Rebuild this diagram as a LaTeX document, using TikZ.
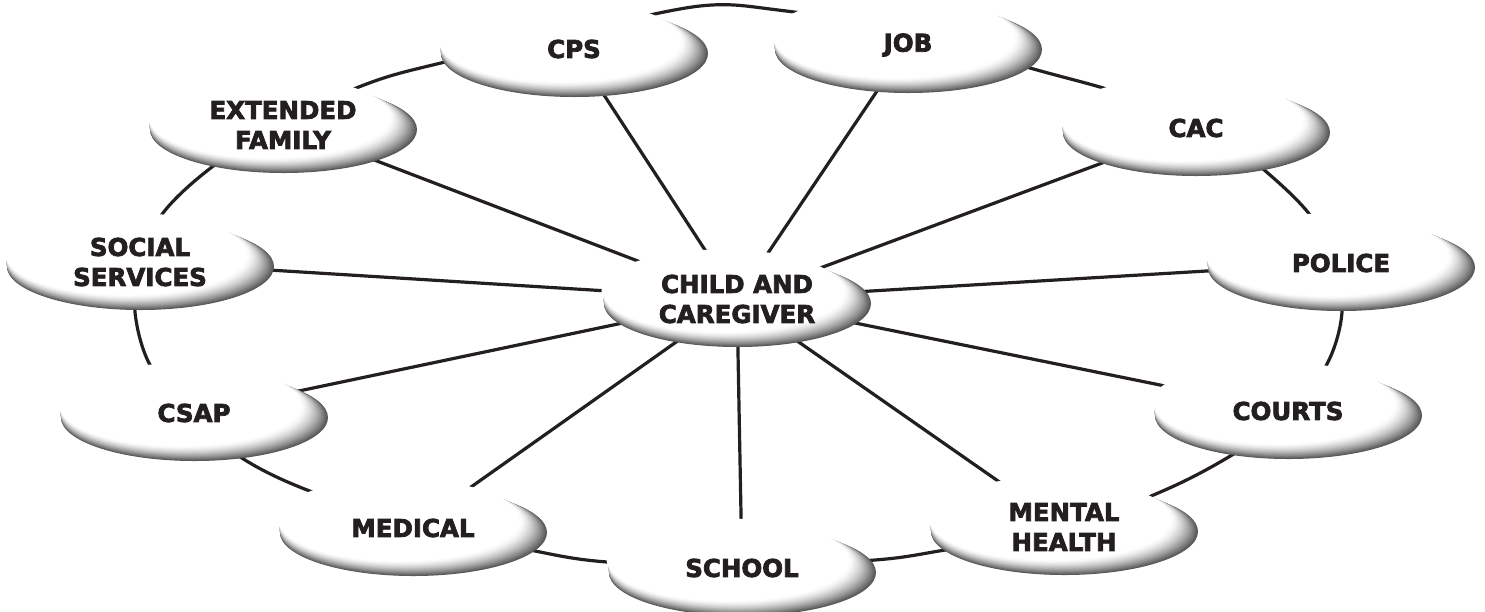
\documentclass[tikz,border=0pt]{standalone}
\usepackage{fontspec}
\newfontfamily\heavyfont{DejaVu Sans Bold}[FakeBold=3]
\usetikzlibrary{shapes.geometric}
\definecolor{ink}{HTML}{231F20}
\pgfdeclarelayer{lines}
\pgfdeclarelayer{bubbles}
\pgfsetlayers{lines,bubbles,main}
\tikzset{
  bubble/.style={ellipse, minimum width=268pt, minimum height=96pt,
    inner sep=0pt, align=center, text=ink,
    font=\fontsize{24.5}{30}\heavyfont},
  link/.style={line width=3.2pt, draw=ink},
}
\begin{document}
\begin{tikzpicture}[x=1pt,y=1pt]
\useasboundingbox (0,0) rectangle (1485,-611);
\node[bubble] (cps)    at (574,-49)   {CPS};
\node[bubble] (job)    at (908,-45)   {JOB};
\node[bubble] (ext)    at (283,-125)  {EXTENDED\\FAMILY};
\node[bubble] (cac)    at (1196,-128) {CAC};
\node[bubble] (soc)    at (140,-262)  {SOCIAL\\SERVICES};
\node[bubble] (pol)    at (1341,-263) {POLICE};
\node[bubble] (csap)   at (194,-413)  {CSAP};
\node[bubble] (courts) at (1288,-411) {COURTS};
\node[bubble] (med)    at (413,-528)  {MEDICAL};
\node[bubble] (ment)   at (1064,-527) {MENTAL\\HEALTH};
\node[bubble] (school) at (742,-568)  {SCHOOL};
\node[bubble] (child)  at (737,-299)  {CHILD AND\\CAREGIVER};
\begin{pgfonlayer}{bubbles}
  \foreach \n in {cps,job,ext,cac,soc,pol,csap,courts,med,ment,school,child} {
    \foreach \i in {0,...,24} {
      \pgfmathsetmacro\s{1-\i/24}
      \pgfmathsetmacro\c{66*\s^1.5}
      \pgfmathsetmacro\ox{-13.5+14*\s}
      \pgfmathsetmacro\oy{7.5-12*\s}
      \pgfmathsetmacro\rx{120.5+13*\s}
      \pgfmathsetmacro\ry{40.5+3*\s}
      \fill[black!\c, shift={(\n.center)}] (\ox,\oy) ellipse [x radius=\rx, y radius=\ry];
    }
    \fill[white, shift={(\n.center)}] (-15,9) ellipse [x radius=120.5, y radius=40.5];
  }
\end{pgfonlayer}
\begin{pgfonlayer}{lines}
  \draw[link] plot[smooth cycle, tension=0.55] coordinates {
    (700,-6) (778,-10) (900,-30) (1030,-68) (1110,-90) (1200,-120)
    (1262,-168) (1310,-215) (1335,-265) (1342,-312) (1328,-362) (1290,-415)
    (1232,-455) (1165,-490) (1060,-530) (945,-550) (875,-560) (740,-566)
    (607,-562) (530,-550) (420,-525) (315,-493) (245,-460) (190,-415)
    (150,-365) (135,-312) (140,-262) (163,-213) (212,-167) (285,-120)
    (372,-82) (445,-62) (575,-32)};
  \foreach \n in {cps,job,ext,cac,soc,pol,csap,courts,med,ment,school}
    \draw[link] (child.center) -- (\n.center);
\end{pgfonlayer}
\end{tikzpicture}
\end{document}
